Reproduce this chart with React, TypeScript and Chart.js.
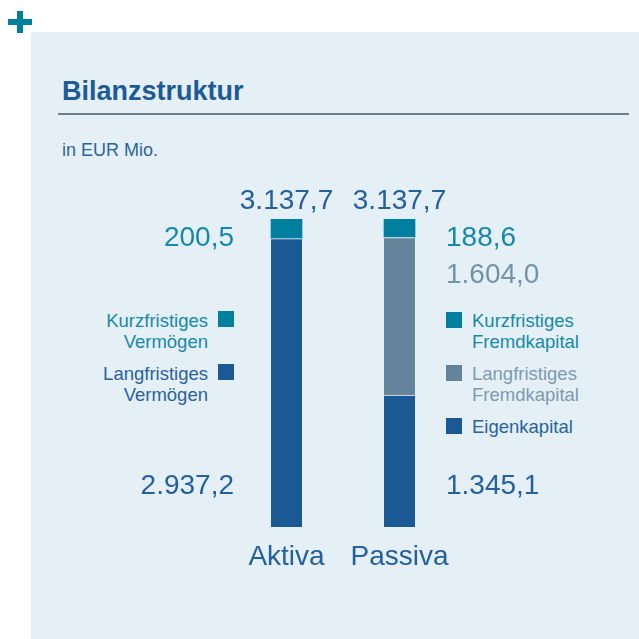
import React, { useEffect, useRef } from "react";
import { Chart, registerables } from "chart.js";

Chart.register(...registerables);

// ---- data ----
const categories = ["Aktiva", "Passiva"];
const bottomSegment = [2937.2, 1345.1]; // Langfristiges Vermögen / Eigenkapital
const middleSegment = [null, 1604.0]; // Langfristiges Fremdkapital
const topSegment = [200.5, 188.6]; // Kurzfristiges Vermögen / Kurzfristiges Fremdkapital

const titleText = "Bilanzstruktur";
const unitText = "in EUR Mio.";
const leftLegend = [
  { lines: ["Kurzfristiges", "Vermögen"], key: "top" },
  { lines: ["Langfristiges", "Vermögen"], key: "bottom" },
];
const rightLegend = [
  { lines: ["Kurzfristiges", "Fremdkapital"], key: "top" },
  { lines: ["Langfristiges", "Fremdkapital"], key: "middle" },
  { lines: ["Eigenkapital"], key: "bottom" },
];

// ---- styles ----
const FONT = "'Liberation Sans', Arial, Helvetica, sans-serif";
const DARK = "#1a5994";
const TEAL = "#007f9e";
const GREY = "#62839a";
const PANEL = "#e4f0f6";
const TXT_DARK = "#245f9e";
const TXT_TEAL = "#1689aa";
const TXT_GREY = "#7393a8";
const LEG_COLORS: Record<string, { box: string; text: string }> = {
  top: { box: TEAL, text: TXT_TEAL },
  middle: { box: GREY, text: "#7d9aae" },
  bottom: { box: DARK, text: "#2a62a0" },
};

function fmt(v: number): string {
  const fixed = v.toFixed(1);
  const [intPart, dec] = fixed.split(".");
  const withDots = intPart.replace(/\B(?=(\d{3})+(?!\d))/g, ".");
  return withDots + "," + dec;
}

const labelPlugin = {
  id: "valueLabels",
  afterDatasetsDraw(chart: any) {
    const ctx = chart.ctx;
    const y = chart.scales.y;
    const meta0 = chart.getDatasetMeta(0);
    ctx.save();
    ctx.font = `28px ${FONT}`;
    ctx.textBaseline = "alphabetic";
    categories.forEach((_, i) => {
      const el = meta0.data[i];
      const cx = el.x;
      const half = el.width / 2;
      const total =
        (bottomSegment[i] || 0) + (middleSegment[i] || 0) + (topSegment[i] || 0);
      const topPx = y.getPixelForValue(total);
      const basePx = y.getPixelForValue(0);
      // total above bar
      ctx.fillStyle = TXT_DARK;
      ctx.textAlign = "center";
      ctx.fillText(fmt(total), cx, topPx - 10);
      const onLeft = i === 0;
      const lx = onLeft ? cx - half - 37 : cx + half + 31;
      ctx.textAlign = onLeft ? "right" : "left";
      let ly = topPx + 27;
      ctx.fillStyle = TXT_TEAL;
      ctx.fillText(fmt(topSegment[i] as number), lx, ly);
      if (middleSegment[i] != null) {
        ly += 37;
        ctx.fillStyle = TXT_GREY;
        ctx.fillText(fmt(middleSegment[i] as number), lx, ly);
      }
      ctx.fillStyle = TXT_DARK;
      ctx.fillText(fmt(bottomSegment[i] as number), lx, basePx - 33);
    });
    ctx.restore();
  },
};

function textAt(baseline: number, size: number) {
  return baseline - size * 0.8465;
}

export default function App() {
  const ref = useRef<HTMLCanvasElement | null>(null);

  useEffect(() => {
    if (!ref.current) return;
    const chart = new Chart(ref.current, {
      type: "bar",
      data: {
        labels: categories,
        datasets: [
          {
            label: "bottom",
            data: bottomSegment as any,
            backgroundColor: DARK,
            borderColor: "#ffffff",
            borderWidth: { top: 1, left: 0, right: 0, bottom: 0 } as any,
            borderSkipped: false,
            barThickness: 31,
          },
          {
            label: "middle",
            data: middleSegment as any,
            backgroundColor: GREY,
            borderColor: "#ffffff",
            borderWidth: { top: 1, left: 0, right: 0, bottom: 0 } as any,
            borderSkipped: false,
            barThickness: 31,
          },
          {
            label: "top",
            data: topSegment as any,
            backgroundColor: TEAL,
            borderWidth: 0,
            barThickness: 31,
          },
        ],
      },
      options: {
        responsive: false,
        animation: false,
        devicePixelRatio: 1,
        layout: { padding: { left: 230, right: 183, top: 219, bottom: 51.4 } },
        plugins: { legend: { display: false }, tooltip: { enabled: false } },
        scales: {
          x: {
            stacked: true,
            grid: { display: false, drawTicks: false },
            border: { display: false },
            ticks: {
              color: TXT_DARK,
              font: { family: FONT, size: 28 },
              padding: 13.5,
            },
          },
          y: {
            stacked: true,
            display: false,
            min: 0,
            max: Math.max(
              ...categories.map(
                (_, i) =>
                  (bottomSegment[i] || 0) + (middleSegment[i] || 0) + (topSegment[i] || 0)
              )
            ),
          },
        },
      },
      plugins: [labelPlugin],
    });
    return () => chart.destroy();
  }, []);

  const legendBox = (left: number, top: number, color: string) => (
    <div
      style={{ position: "absolute", left, top, width: 16, height: 16, background: color }}
    />
  );

  const leftTops = [310.3, 363.3];
  const rightTops = [310.3, 363.3, 416.3];

  return (
    <div
      style={{
        position: "absolute",
        left: 0,
        top: 0,
        width: 639,
        height: 639,
        background: "#ffffff",
        overflow: "hidden",
        fontFamily: FONT,
      }}
    >
      <div style={{ position: "absolute", left: 31, top: 32, right: 0, bottom: 0, background: PANEL }} />
      <div style={{ position: "absolute", left: 8, top: 19, width: 24, height: 6, background: TEAL }} />
      <div style={{ position: "absolute", left: 17, top: 11, width: 6, height: 22, background: TEAL }} />
      <div
        style={{
          position: "absolute",
          left: 62,
          top: textAt(101, 27),
          fontSize: 27,
          lineHeight: "27px",
          fontWeight: "bold",
          color: "#1d5a96",
          whiteSpace: "nowrap",
        }}
      >
        {titleText}
      </div>
      <div style={{ position: "absolute", left: 58, top: 113, width: 571, height: 2, background: "#6e7e8a" }} />
      <div
        style={{
          position: "absolute",
          left: 62,
          top: textAt(156, 18),
          fontSize: 18,
          lineHeight: "18px",
          color: "#2a64a0",
          whiteSpace: "nowrap",
        }}
      >
        {unitText}
      </div>
      {leftLegend.map((item, k) => (
        <React.Fragment key={"l" + k}>
          <div
            style={{
              position: "absolute",
              right: 639 - 208,
              top: leftTops[k],
              fontSize: 18.5,
              lineHeight: "21px",
              textAlign: "right",
              color: LEG_COLORS[item.key].text,
              whiteSpace: "nowrap",
            }}
          >
            {item.lines.map((l, j) => (
              <div key={j}>{l}</div>
            ))}
          </div>
          {legendBox(218, leftTops[k] + 1, LEG_COLORS[item.key].box)}
        </React.Fragment>
      ))}
      {rightLegend.map((item, k) => (
        <React.Fragment key={"r" + k}>
          {legendBox(446, rightTops[k] + 1.5, LEG_COLORS[item.key].box)}
          <div
            style={{
              position: "absolute",
              left: 472,
              top: rightTops[k],
              fontSize: 18.5,
              lineHeight: "21px",
              color: LEG_COLORS[item.key].text,
              whiteSpace: "nowrap",
            }}
          >
            {item.lines.map((l, j) => (
              <div key={j}>{l}</div>
            ))}
          </div>
        </React.Fragment>
      ))}
      <canvas
        ref={ref}
        width={639}
        height={639}
        style={{ position: "absolute", left: 0, top: 0, width: 639, height: 639 }}
      />
    </div>
  );
}
